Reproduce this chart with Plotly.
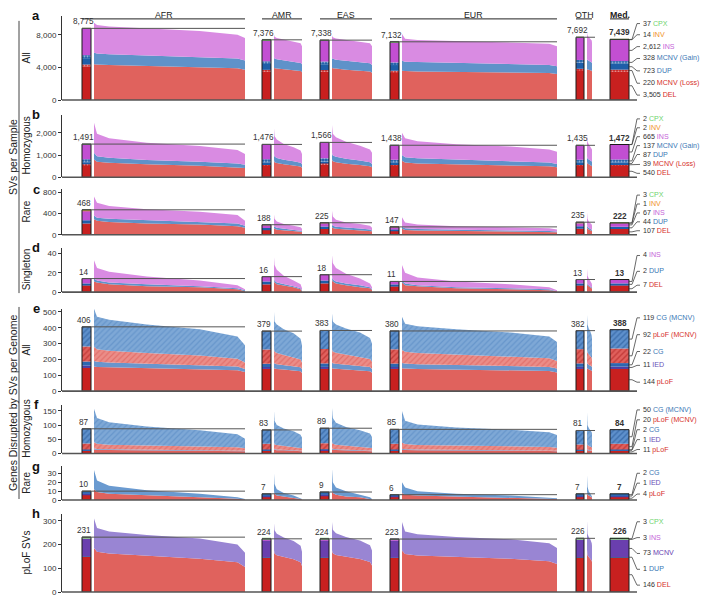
import plotly.graph_objects as go

FONT = "Liberation Sans, Arial, Helvetica, sans-serif"

# ---------------- DATA ----------------
POPS = ["AFR", "AMR", "EAS", "EUR", "OTH"]
GROUPS = ["AFR", "AMR", "EAS", "EUR", "OTH", "Med."]
FRAC = [0, 0.02, 0.1, 0.35, 0.7, 0.95, 1.0]   # position along each sorted sample distribution

# Panel a: SVs per sample, all  (bars: AFR, AMR, EAS, EUR, OTH, Med.)
A_CATS = ["DEL", "MCNV (Loss)", "DUP", "MCNV (Gain)", "INS", "INV", "CPX"]
A_BARS = [
    [4100, 3480, 3460, 3380, 3600, 3505],
    [250, 220, 215, 210, 230, 220],
    [780, 720, 715, 700, 740, 723],
    [370, 330, 325, 320, 340, 328],
    [3220, 2560, 2560, 2474, 2730, 2612],
    [15, 14, 14, 13, 14, 14],
    [40, 52, 49, 35, 38, 37],
]
A_RED = [[4400, 4350, 4300, 4200, 4050, 3900, 3700], [3950, 3900, 3850, 3750, 3650, 3550, 3400],
         [3950, 3900, 3850, 3700, 3600, 3500, 3350], [3600, 3550, 3500, 3450, 3400, 3300, 3200],
         [3800, 3780, 3750, 3700, 3650, 3600, 3500]]
A_BLUE = [[5800, 5700, 5600, 5450, 5300, 5100, 4850], [5200, 5100, 5000, 4850, 4700, 4550, 4400],
          [5150, 5050, 4950, 4800, 4650, 4500, 4300], [4800, 4700, 4650, 4550, 4450, 4300, 4150],
          [5000, 4950, 4900, 4800, 4700, 4600, 4500]]
A_TOTAL = [[9450, 9200, 9000, 8750, 8450, 8000, 7600], [8000, 7750, 7600, 7400, 7200, 6950, 6600],
           [7900, 7700, 7550, 7350, 7150, 6950, 6600], [8100, 7500, 7350, 7200, 7050, 6900, 6600],
           [8300, 8100, 7900, 7700, 7500, 7300, 7000]]

# Panel b: homozygous
B_CATS = A_CATS
B_BARS = [
    [545, 542, 575, 528, 527, 540],
    [40, 39, 42, 38, 38, 39],
    [90, 87, 92, 85, 85, 87],
    [140, 138, 145, 134, 134, 137],
    [672, 666, 708, 649, 647, 665],
    [2, 2, 2, 2, 2, 2],
    [2, 2, 2, 2, 2, 2],
]
B_RED = [[800, 700, 650, 580, 520, 460, 420], [760, 680, 640, 580, 530, 480, 430],
         [800, 720, 680, 610, 550, 500, 450], [740, 660, 620, 580, 540, 490, 450],
         [700, 640, 620, 590, 560, 530, 500]]
B_BLUE = [[1100, 950, 880, 780, 700, 620, 560], [1050, 930, 870, 790, 720, 650, 580],
          [1100, 980, 920, 830, 750, 670, 600], [1000, 900, 850, 790, 730, 660, 600],
          [950, 880, 840, 800, 760, 720, 680]]
B_TOTAL = [[2450, 1950, 1750, 1550, 1400, 1220, 1050], [2200, 1850, 1700, 1500, 1350, 1200, 1050],
           [2350, 1950, 1800, 1600, 1420, 1250, 1100], [2000, 1750, 1620, 1480, 1380, 1250, 1150],
           [1900, 1700, 1600, 1480, 1380, 1300, 1250]]

# Panel c: rare
C_CATS = ["DEL", "DUP", "INS", "INV", "CPX"]
C_BARS = [
    [210, 90, 108, 71, 113, 107],
    [60, 37, 45, 29, 47, 44],
    [190, 57, 68, 44, 71, 67],
    [2, 1, 1, 1, 1, 1],
    [6, 3, 3, 2, 3, 3],
]
C_RED = [[290, 260, 240, 210, 190, 160, 130], [120, 110, 95, 85, 75, 65, 55],
         [140, 125, 110, 100, 90, 80, 65], [110, 90, 80, 70, 62, 55, 48],
         [140, 125, 115, 100, 90, 80, 70]]
C_BLUE = [[360, 320, 300, 270, 240, 210, 170], [170, 150, 130, 115, 100, 85, 70],
          [200, 170, 150, 130, 115, 100, 80], [150, 120, 105, 90, 80, 70, 60],
          [190, 170, 150, 130, 115, 100, 90]]
C_TOTAL = [[720, 600, 540, 480, 430, 370, 260], [380, 300, 250, 200, 170, 140, 110],
           [450, 340, 280, 230, 200, 170, 130], [330, 230, 190, 160, 140, 120, 100],
           [420, 340, 300, 250, 220, 190, 170]]

# Panel d: singleton
D_CATS = ["DEL", "DUP", "INS"]
D_BARS = [
    [7, 8, 9, 6, 7, 7],
    [2, 3, 3, 2, 2, 2],
    [5, 5, 6, 3, 4, 4],
]
D_RED = [[11, 10, 8, 6, 5, 3, 1], [12, 10, 8, 7, 5, 3, 1], [13, 11, 9, 7, 5, 4, 2],
         [10, 7, 6, 4, 3, 2, 1], [9, 8, 7, 6, 5, 4, 3]]
D_BLUE = [[14, 12, 10, 8, 6, 4, 2], [15, 12, 10, 8, 6, 4, 2], [16, 13, 11, 9, 7, 5, 3],
          [12, 9, 7, 5, 4, 3, 1], [11, 9, 8, 7, 6, 5, 4]]
D_TOTAL = [[33, 25, 21, 16, 12, 7, 3], [36, 28, 23, 17, 12, 8, 4], [38, 30, 25, 19, 14, 9, 5],
           [28, 20, 15, 11, 8, 5, 2], [24, 20, 17, 14, 11, 9, 7]]

# Panel e: genes disrupted, all
E_CATS = ["pLoF", "IED", "CG", "pLoF (MCNV)", "CG (MCNV)"]
E_BARS = [
    [150, 141, 142, 141, 142, 144],
    [12, 11, 11, 11, 11, 11],
    [25, 21, 22, 22, 22, 22],
    [95, 90, 91, 90, 90, 92],
    [124, 116, 117, 116, 117, 119],
]
E_RED = [[155, 152, 150, 145, 140, 132, 120], [145, 143, 140, 137, 132, 125, 115],
         [146, 143, 141, 138, 133, 126, 116], [145, 142, 140, 137, 133, 127, 118],
         [146, 144, 141, 138, 134, 129, 125]]
E_BLUE = [[190, 185, 180, 172, 165, 155, 140], [180, 175, 170, 165, 158, 150, 138],
          [180, 176, 172, 166, 160, 152, 140], [178, 174, 170, 165, 160, 153, 142],
          [180, 176, 172, 167, 162, 156, 150]]
E_RED_MCNV = [[280, 265, 255, 240, 225, 205, 180], [265, 250, 240, 228, 215, 200, 180],
              [265, 250, 242, 230, 218, 202, 185], [260, 248, 240, 230, 220, 208, 190],
              [265, 252, 244, 233, 222, 210, 200]]
E_TOTAL = [[520, 470, 450, 420, 390, 345, 290], [500, 440, 420, 390, 365, 330, 290],
           [490, 440, 420, 395, 370, 335, 300], [470, 425, 410, 390, 370, 345, 310],
           [480, 440, 420, 395, 375, 350, 330]]

# Panel f: genes disrupted, homozygous
F_CATS = E_CATS
F_BARS = [
    [11, 11, 12, 11, 10, 11],
    [1, 1, 1, 1, 1, 1],
    [2, 2, 2, 2, 2, 2],
    [21, 20, 21, 20, 19, 20],
    [52, 49, 53, 51, 49, 50],
]
F_RED = [[14, 13, 12, 11, 10, 9, 8], [13, 12, 11, 11, 10, 9, 8], [14, 13, 12, 11, 10, 9, 8],
         [13, 12, 11, 11, 10, 9, 8], [12, 12, 11, 10, 10, 9, 9]]
F_BLUE = [[18, 16, 15, 14, 13, 12, 10], [17, 15, 14, 13, 12, 11, 10], [18, 16, 15, 14, 13, 12, 10],
          [17, 15, 14, 13, 12, 11, 10], [16, 15, 14, 13, 12, 11, 10]]
F_RED_MCNV = [[40, 34, 31, 28, 25, 22, 18], [38, 32, 30, 27, 24, 21, 18], [40, 34, 31, 28, 25, 22, 19],
              [38, 33, 30, 28, 26, 23, 20], [36, 32, 29, 27, 25, 23, 21]]
F_TOTAL = [[158, 125, 110, 95, 82, 68, 52], [150, 115, 100, 88, 78, 66, 55],
           [160, 125, 108, 93, 82, 70, 58], [150, 115, 102, 92, 84, 75, 65],
           [145, 115, 100, 90, 82, 75, 70]]

# Panel g: genes disrupted, rare
G_CATS = ["pLoF", "IED", "CG"]
G_BARS = [
    [6, 4, 5, 4, 4, 4],
    [1, 1, 1, 1, 1, 1],
    [3, 2, 3, 1, 2, 2],
]
G_RED = [[12, 9, 7, 5, 3, 1.5, 0.5], [10, 7, 5, 4, 2, 1, 0.5], [11, 8, 6, 4, 3, 1.5, 0.5],
         [8, 6, 5, 4, 3, 2, 1], [10, 8, 6, 5, 4, 3, 2]]
G_TOTAL = [[34, 22, 16, 11, 7, 3, 1], [30, 18, 12, 8, 5, 2, 1], [35, 20, 14, 10, 6, 3, 1],
           [20, 14, 10, 7, 5, 3, 2], [28, 20, 15, 10, 7, 5, 4]]

# Panel h: pLoF SVs
H_CATS = ["DEL", "DUP", "MCNV", "INS", "CPX"]
H_BARS = [
    [150, 145, 145, 144, 146, 146],
    [1, 1, 1, 1, 1, 1],
    [74, 72, 72, 72, 73, 73],
    [3, 3, 3, 3, 3, 3],
    [3, 3, 3, 3, 3, 3],
]
H_RED = [[185, 170, 162, 152, 140, 125, 105], [175, 162, 155, 147, 138, 125, 110],
         [176, 163, 156, 148, 139, 126, 112], [175, 160, 154, 148, 140, 130, 118],
         [178, 163, 155, 147, 140, 132, 125]]
H_TOTAL = [[310, 270, 255, 240, 225, 200, 165], [290, 260, 245, 230, 215, 195, 170],
           [295, 262, 247, 232, 217, 197, 175], [295, 255, 243, 232, 222, 205, 185],
           [300, 260, 245, 232, 220, 205, 195]]

ROW_TITLES = ["All", "Homozygous", "Rare", "Singleton", "All", "Homozygous", "Rare", "pLoF SVs"]
LETTERS = ["a", "b", "c", "d", "e", "f", "g", "h"]
SECTION_TITLES = ["SVs per Sample", "Genes Disrupted by SVs per Genome"]

# ---------------- LAYOUT / STYLE ----------------
# page pixel positions (the html body adds an 8 px margin around the figure)
PAGE_W, PAGE_H, OFF = 709, 603, 8
W, H = PAGE_W - 2 * OFF, PAGE_H - OFF

X0_PX, X1_PX = 62, 645
XMAX = X1_PX - X0_PX
BASE_END = 575
BAR_X0 = [20, 200, 258, 328, 514, 548]
BAR_W = [9, 9, 9, 9, 8, 19]
DIST_X0 = [32, 212, 270, 340, 525]
DIST_W = [151, 28, 40, 155, 5]

PANEL_PX = [(15, 100), (115, 178), (190, 236), (249, 294), (311, 394), (408, 457), (470, 504), (518, 597)]
YMAX = [10300, 2800, 856, 46, 519, 171, 38, 329]
TICKS = [[0, 4000, 8000], [0, 1000, 2000], [0, 400, 800], [0, 20, 40],
         [0, 100, 200, 300, 400, 500], [0, 50, 100, 150], [0, 10, 20, 30], [0, 100, 200, 300]]
LABEL_PX = [
    [95, 83, 70.5, 58, 46, 34, 22.7],
    [174, 165, 155, 146, 137, 128, 119],
    [232, 223, 214, 205, 196],
    [287, 273, 257],
    [385, 368, 354, 337, 320],
    [453, 443, 433, 423, 413],
    [498, 487, 477],
    [590, 574, 558, 542, 526],
]
HEADER_TEXT_Y, HEADER_LINE_Y = 13.6, 18

RED, BLUE, PINK, ORANGE, GREEN = "#c8201f", "#1e5ea8", "#c24fd2", "#f5a030", "#80d880"
PURPLE, IED_C, CG_C = "#6a3fae", "#4b3fa5", "#2d67b0"
DOTS_W = dict(shape=".", fgcolor="white", size=3, solidity=0.35, fillmode="overlay")


def hatch(fg):
    return dict(shape="/", fgcolor=fg, size=4, solidity=0.35, fillmode="overlay")


BAR_STYLE = {
    "DEL": dict(color=RED), "MCNV (Loss)": dict(color=RED, pattern=DOTS_W),
    "DUP": dict(color=BLUE), "MCNV (Gain)": dict(color=BLUE, pattern=DOTS_W),
    "INS": dict(color=PINK), "INV": dict(color=ORANGE), "CPX": dict(color=GREEN),
    "pLoF": dict(color=RED), "IED": dict(color=IED_C), "CG": dict(color=CG_C),
    "pLoF (MCNV)": dict(color="#e0605c", pattern=hatch("#a81818")),
    "CG (MCNV)": dict(color="#5e90cc", pattern=hatch("#1d4f8f")),
    "MCNV": dict(color=PURPLE),
}
LABEL_COLOR = {
    "DEL": "#d6312b", "MCNV (Loss)": "#d6312b", "DUP": "#3a78b5", "MCNV (Gain)": "#3a78b5",
    "INS": "#c564d8", "INV": "#f0922a", "CPX": "#6fd46f", "pLoF": "#d6312b", "IED": "#6a52b8",
    "CG": "#3a78b5", "pLoF (MCNV)": "#d6312b", "CG (MCNV)": "#3a78b5", "MCNV": "#6a3fb0",
}
D_RED_C, D_BLUE_C, D_PINK_C = "#e0625d", "#5f92c9", "#d98be2"
SV_STYLES = [dict(color=D_RED_C), dict(color=D_BLUE_C), dict(color=D_PINK_C)]
GENE_STYLES = [dict(color=D_RED_C), dict(color="#6a95cc"),
               dict(color="#eb8d88", pattern=dict(shape="/", fgcolor="#d9544f", size=4, solidity=0.3, fillmode="overlay")),
               dict(color="#7ea8d6", pattern=dict(shape="/", fgcolor="#4f83c0", size=4, solidity=0.3, fillmode="overlay"))]

ROWS = [
    dict(cats=A_CATS, bars=A_BARS, bounds=[A_RED, A_BLUE, A_TOTAL], dstyles=SV_STYLES),
    dict(cats=B_CATS, bars=B_BARS, bounds=[B_RED, B_BLUE, B_TOTAL], dstyles=SV_STYLES),
    dict(cats=C_CATS, bars=C_BARS, bounds=[C_RED, C_BLUE, C_TOTAL], dstyles=SV_STYLES),
    dict(cats=D_CATS, bars=D_BARS, bounds=[D_RED, D_BLUE, D_TOTAL], dstyles=SV_STYLES),
    dict(cats=E_CATS, bars=E_BARS, bounds=[E_RED, E_BLUE, E_RED_MCNV, E_TOTAL], dstyles=GENE_STYLES),
    dict(cats=F_CATS, bars=F_BARS, bounds=[F_RED, F_BLUE, F_RED_MCNV, F_TOTAL], dstyles=GENE_STYLES),
    dict(cats=G_CATS, bars=G_BARS, bounds=[G_RED, G_TOTAL], dstyles=[dict(color=D_RED_C), dict(color="#6a9ad0")]),
    dict(cats=H_CATS, bars=H_BARS, bounds=[H_RED, H_TOTAL], dstyles=[dict(color=D_RED_C), dict(color="#9985d3")]),
]


def px_x(p):
    return (p - OFF) / W


def px_y(p):
    return 1 - (p - OFF) / H


fig = go.Figure()
annotations = []
shapes = []
layout_axes = {}
centers = [BAR_X0[i] + BAR_W[i] / 2 for i in range(6)]
SMALL = dict(size=7.1, color="#333", family=FONT)

for r, spec in enumerate(ROWS, start=1):
    xr = "x" if r == 1 else f"x{r}"
    yr = "y" if r == 1 else f"y{r}"
    top, bot = PANEL_PX[r - 1]
    ymax = YMAX[r - 1]
    sfx = "" if r == 1 else str(r)
    layout_axes[f"xaxis{sfx}"] = dict(domain=[px_x(X0_PX), px_x(X1_PX)], range=[0, XMAX], visible=False,
                                      anchor=yr, fixedrange=True)
    layout_axes[f"yaxis{sfx}"] = dict(domain=[px_y(bot), px_y(top)], range=[0, ymax], anchor=xr,
                                      showline=True, linecolor="#333", linewidth=1, ticks="outside",
                                      ticklen=3, tickwidth=1, tickcolor="#333", tickvals=TICKS[r - 1],
                                      tickformat=",d", tickfont=dict(size=8, color="#333", family=FONT),
                                      showgrid=False, zeroline=False, fixedrange=True)

    # distributions of per-sample values
    for p in range(5):
        xs = [DIST_X0[p] + f * DIST_W[p] for f in FRAC]
        for k, (bound, st) in enumerate(zip(spec["bounds"], spec["dstyles"])):
            tr = go.Scatter(x=xs, y=bound[p], mode="lines", line=dict(width=0, color=st["color"]),
                            fill="tozeroy" if k == 0 else "tonexty", fillcolor=st["color"],
                            xaxis=xr, yaxis=yr, hoverinfo="skip", showlegend=False)
            if "pattern" in st:
                tr.fillpattern = st["pattern"]
            fig.add_trace(tr)

    # stacked median bars
    cum = [0] * 6
    mids = []
    for ci, cat in enumerate(spec["cats"]):
        vals = spec["bars"][ci]
        st = BAR_STYLE[cat]
        marker = dict(color=st["color"], line=dict(width=0))
        if "pattern" in st:
            marker["pattern"] = st["pattern"]
        fig.add_trace(go.Bar(x=centers, y=vals, base=list(cum), width=BAR_W, marker=marker,
                             xaxis=xr, yaxis=yr, hoverinfo="skip", showlegend=False))
        mids.append(cum[5] + vals[5] / 2)
        cum = [c + v for c, v in zip(cum, vals)]
    totals = cum
    fig.add_trace(go.Bar(x=centers, y=totals, base=[0] * 6, width=BAR_W,
                         marker=dict(color="rgba(0,0,0,0)", line=dict(color="#1a1a1a", width=1)),
                         xaxis=xr, yaxis=yr, hoverinfo="skip", showlegend=False))

    # median reference lines across each distribution
    for p in range(5):
        x_end = DIST_X0[p] + DIST_W[p] + (3 if p == 4 else 0)
        fig.add_trace(go.Scatter(x=[BAR_X0[p], x_end], y=[totals[p], totals[p]], mode="lines",
                                 line=dict(color="#555", width=1), xaxis=xr, yaxis=yr,
                                 hoverinfo="skip", showlegend=False))

    # value labels
    for i in range(6):
        txt = f"{totals[i]:,}"
        if i == 5:
            txt = f"<b>{txt}</b>"
        annotations.append(dict(x=centers[i] if i == 5 else BAR_X0[i] + 1.5, y=totals[i], xref=xr, yref=yr,
                                text=txt, showarrow=False, xanchor="center", yanchor="bottom", yshift=1,
                                borderpad=0, font=dict(size=8.2, color="#333", family=FONT)))

    # right-hand category labels with connectors
    bar_right = BAR_X0[5] + BAR_W[5]
    for ci, cat in enumerate(spec["cats"]):
        lab_y = (bot - LABEL_PX[r - 1][ci]) / (bot - top) * ymax
        fig.add_trace(go.Scatter(x=[bar_right, bar_right + 3, bar_right + 8, bar_right + 11],
                                 y=[mids[ci], mids[ci], lab_y, lab_y], mode="lines",
                                 line=dict(color="#444", width=0.8), xaxis=xr, yaxis=yr,
                                 hoverinfo="skip", showlegend=False))
        val = spec["bars"][ci][5]
        annotations.append(dict(x=bar_right + 12, y=lab_y, xref=xr, yref=yr, xanchor="left", yanchor="middle",
                                text=f"{val:,} <span style='color:{LABEL_COLOR[cat]}'>{cat}</span>",
                                showarrow=False, font=SMALL))

    # baseline
    shapes.append(dict(type="line", xref=xr, yref="paper", x0=0, x1=BASE_END,
                       y0=px_y(bot), y1=px_y(bot), line=dict(color="#555", width=1.6)))

    # row title and panel letter
    annotations.append(dict(x=px_x(26.5), y=px_y((top + bot) / 2), xref="paper", yref="paper",
                            xanchor="center", yanchor="middle",
                            text=ROW_TITLES[r - 1], textangle=-90, showarrow=False,
                            font=dict(size=10, color="#222", family=FONT)))
    annotations.append(dict(x=px_x(36), y=px_y(top), xref="paper", yref="paper",
                            xanchor="center", yanchor="middle",
                            text=f"<b>{LETTERS[r - 1]}</b>", showarrow=False,
                            font=dict(size=13, color="#111", family=FONT)))

# group headers
for i, g in enumerate(GROUPS):
    x_start = BAR_X0[i]
    x_end = DIST_X0[i] + DIST_W[i] if i < 5 else BAR_X0[i] + BAR_W[i]
    shapes.append(dict(type="line", xref="x", yref="paper", x0=x_start, x1=x_end,
                       y0=px_y(HEADER_LINE_Y), y1=px_y(HEADER_LINE_Y), line=dict(color="#222", width=1)))
    annotations.append(dict(x=(x_start + x_end) / 2, y=px_y(HEADER_TEXT_Y), xref="x", yref="paper",
                            xanchor="center", yanchor="middle", borderpad=0,
                            text=f"<b>{g}</b>" if i == 5 else g, showarrow=False,
                            font=dict(size=8.8, color="#222", family=FONT)))

# section titles
for (t0, t1), title in zip([(20, 295), (309, 503)], SECTION_TITLES):
    shapes.append(dict(type="line", xref="paper", yref="paper", x0=px_x(19), x1=px_x(19),
                       y0=px_y(t0), y1=px_y(t1), line=dict(color="#444", width=1)))
    annotations.append(dict(x=px_x(13), y=px_y((t0 + t1) / 2), xref="paper", yref="paper",
                            xanchor="center", yanchor="middle",
                            text=title, textangle=-90, showarrow=False,
                            font=dict(size=10.5, color="#222", family=FONT)))

fig.update_layout(width=W, height=H, margin=dict(l=0, r=0, t=0, b=0), barmode="overlay",
                  plot_bgcolor="white", paper_bgcolor="white", showlegend=False,
                  annotations=annotations, shapes=shapes, font=dict(family=FONT),
                  **layout_axes)
fig.write_html("out.html")
